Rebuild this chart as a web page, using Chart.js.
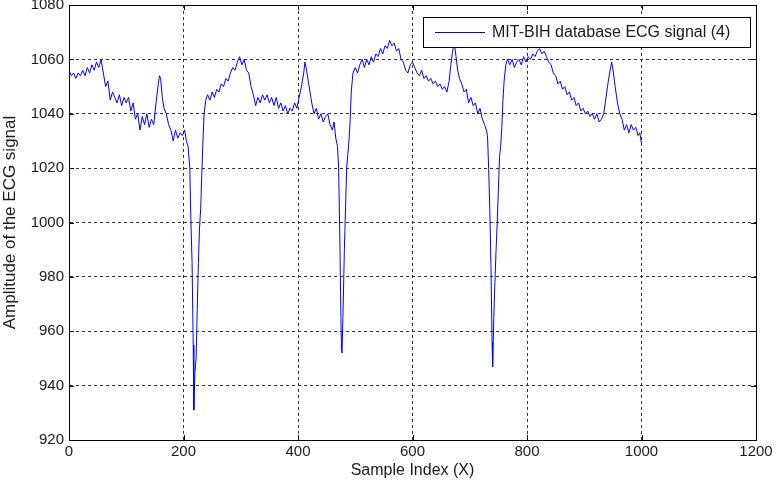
<!DOCTYPE html>
<html>
<head>
<meta charset="utf-8">
<script src="https://cdn.jsdelivr.net/npm/chart.js@4/dist/chart.umd.min.js"></script>
<style>
html, body { margin: 0; padding: 0; background: #fff; }
</style>
</head>
<body>
<canvas id="ecgChart" width="777" height="485"></canvas>
<script>
// ECG trace (sample index / amplitude)
const sampleIndex = [
    0, 4, 8, 12, 16, 20, 24, 28, 32, 36,
    40, 44, 48, 52, 56, 60, 64, 68, 72, 76,
    80, 84, 88, 92, 96, 100, 104, 108, 112, 116,
    120, 124, 128, 132, 136, 140, 144, 148, 152, 156,
    158, 160, 163, 166, 170, 174, 178, 182, 186, 190,
    194, 198, 202, 205, 208, 211, 213, 215, 217, 218,
    220, 222, 224, 226, 228, 230, 232, 234, 236, 239,
    242, 246, 250, 254, 258, 262, 266, 270, 274, 278,
    282, 286, 290, 294, 298, 302, 306, 310, 314, 318,
    322, 326, 330, 334, 338, 342, 346, 350, 354, 358,
    362, 366, 370, 374, 378, 382, 386, 390, 394, 398,
    402, 406, 410, 412, 415, 418, 421, 424, 428, 432,
    436, 440, 444, 448, 452, 456, 460, 463, 466, 469,
    471, 473, 475, 476, 477, 479, 481, 483, 485, 487,
    489, 491, 493, 496, 500, 504, 508, 512, 516, 520,
    524, 528, 532, 536, 540, 544, 548, 552, 556, 560,
    564, 568, 572, 576, 580, 584, 588, 592, 596, 600,
    604, 608, 612, 616, 620, 624, 628, 632, 636, 640,
    644, 648, 652, 656, 660, 664, 667, 670, 673, 676,
    679, 682, 686, 690, 694, 698, 702, 706, 710, 714,
    718, 722, 726, 729, 731, 733, 735, 737, 739, 740,
    742, 744, 746, 748, 750, 752, 754, 756, 758, 760,
    763, 766, 770, 774, 778, 782, 786, 790, 794, 798,
    802, 806, 810, 814, 818, 822, 826, 830, 834, 838,
    842, 846, 850, 854, 858, 862, 866, 870, 874, 878,
    882, 886, 890, 894, 898, 902, 906, 910, 914, 918,
    922, 926, 930, 934, 938, 942, 946, 948, 951, 954,
    958, 962, 966, 970, 974, 978, 982, 986, 990, 994,
    997, 1000
];
const ecgAmplitude = [
    1056, 1054, 1055, 1053, 1055, 1054, 1056, 1054, 1057, 1055,
    1058, 1056, 1059, 1057, 1060, 1055, 1050, 1052, 1045, 1048,
    1046, 1044, 1047, 1043, 1046, 1044, 1046, 1041, 1044, 1038,
    1040, 1034, 1039, 1036, 1040, 1035, 1038, 1036, 1044, 1051,
    1054, 1053, 1046, 1042, 1040, 1036, 1034, 1030, 1034, 1031,
    1033, 1032, 1034, 1030, 1028, 1020, 1000, 985, 955, 931,
    945, 950, 968, 985, 998, 1005, 1018, 1030, 1040, 1045,
    1047, 1045, 1048, 1046, 1049, 1048, 1051, 1050, 1053, 1052,
    1055, 1057, 1056, 1059, 1061, 1058, 1060, 1056, 1055, 1050,
    1047, 1043, 1046, 1044, 1047, 1045, 1047, 1044, 1046, 1043,
    1046, 1042, 1044, 1041, 1043, 1040, 1042, 1041, 1044, 1042,
    1046, 1050, 1055, 1059, 1056, 1052, 1048, 1044, 1040, 1042,
    1038, 1040, 1037, 1039, 1040, 1036, 1034, 1037, 1031, 1028,
    1020, 995, 965, 953, 952, 970, 990, 1005, 1020, 1025,
    1030, 1037, 1048, 1055, 1057, 1055, 1058, 1060, 1057, 1060,
    1058, 1061, 1059, 1062, 1061, 1064, 1062, 1065, 1064, 1067,
    1065, 1066, 1063, 1064, 1060, 1059, 1056, 1055, 1058, 1059,
    1057, 1055, 1054, 1056, 1053, 1054, 1052, 1053, 1051, 1052,
    1050, 1051, 1049, 1050, 1048, 1052, 1058, 1063, 1066, 1061,
    1056, 1053, 1051, 1048, 1049, 1044, 1046, 1043, 1044, 1040,
    1042, 1038, 1036, 1034, 1032, 1020, 1005, 985, 956, 947,
    965, 978, 990, 1000, 1012, 1024, 1028, 1035, 1045, 1052,
    1058, 1060, 1058, 1060, 1057, 1059, 1060, 1058, 1061, 1059,
    1061, 1060, 1062, 1061, 1063, 1064, 1062, 1063, 1061, 1059,
    1058, 1055, 1054, 1051, 1052, 1049, 1050, 1047, 1048, 1045,
    1046, 1043, 1044, 1041, 1042, 1040, 1041, 1039, 1040, 1038,
    1040, 1037, 1038, 1040, 1046, 1052, 1057, 1059, 1055, 1050,
    1044, 1040, 1038, 1034, 1036, 1033, 1036, 1034, 1035, 1032,
    1033, 1029
];

const xTicks = [0, 200, 400, 600, 800, 1000, 1200];
const yTicks = [920, 940, 960, 980, 1000, 1020, 1040, 1060, 1080];

const FONT = '"Liberation Sans", Arial, sans-serif';
const TEXT = '#1a1a1a';

// closed axes box + small inward tick marks, like the matlab figure
const axesBox = {
    id: 'axesBox',
    afterDatasetsDraw(chart) {
        const { ctx, chartArea: a, scales } = chart;
        ctx.save();
        ctx.strokeStyle = '#000';
        ctx.lineWidth = 1;
        ctx.strokeRect(Math.round(a.left) + 0.5, Math.round(a.top) + 0.5,
            Math.round(a.right - a.left), Math.round(a.bottom - a.top));
        ctx.beginPath();
        xTicks.forEach(v => {
            const px = Math.round(scales.x.getPixelForValue(v)) + 0.5;
            ctx.moveTo(px, a.bottom); ctx.lineTo(px, a.bottom - 5);
            ctx.moveTo(px, a.top); ctx.lineTo(px, a.top + 5);
        });
        yTicks.forEach(v => {
            const py = Math.round(scales.y.getPixelForValue(v)) + 0.5;
            ctx.moveTo(a.left, py); ctx.lineTo(a.left + 5, py);
            ctx.moveTo(a.right, py); ctx.lineTo(a.right - 5, py);
        });
        ctx.stroke();
        ctx.restore();
    }
};

// legend box inside the plot, top right
const legendBox = {
    id: 'legendBox',
    afterDraw(chart) {
        const ctx = chart.ctx;
        const ds = chart.data.datasets[0];
        ctx.save();
        ctx.fillStyle = '#fff';
        ctx.fillRect(423.5, 17.5, 327, 30);
        ctx.strokeStyle = '#000';
        ctx.lineWidth = 1;
        ctx.strokeRect(423.5, 17.5, 327, 30);
        ctx.strokeStyle = ds.borderColor;
        ctx.beginPath();
        ctx.moveTo(435, 32.5);
        ctx.lineTo(485, 32.5);
        ctx.stroke();
        ctx.fillStyle = TEXT;
        ctx.font = '16px ' + FONT;
        ctx.textBaseline = 'middle';
        ctx.fillText(ds.label, 492, 33);
        ctx.restore();
    }
};

const ctx = document.getElementById('ecgChart').getContext('2d');
new Chart(ctx, {
    type: 'line',
    data: {
        datasets: [{
            label: 'MIT-BIH database ECG signal (4)',
            data: sampleIndex.map((s, i) => ({ x: s, y: ecgAmplitude[i] })),
            borderColor: '#0000ff',
            borderWidth: 1,
            pointRadius: 0,
            tension: 0,
            fill: false
        }]
    },
    options: {
        responsive: false,
        animation: false,
        layout: { padding: { left: 0, right: 21, top: 5, bottom: 0 } },
        plugins: {
            legend: { display: false },
            tooltip: { enabled: false }
        },
        scales: {
            x: {
                type: 'linear',
                min: 0,
                max: 1200,
                afterBuildTicks: scale => { scale.ticks = xTicks.map(v => ({ value: v })); },
                afterFit: scale => { scale.height = 45; },
                ticks: {
                    color: TEXT, font: { family: FONT, size: 15 }, padding: 3, maxRotation: 0,
                    callback: v => String(v)
                },
                grid: { color: '#333', lineWidth: 1, drawTicks: false },
                border: { display: true, color: '#000', dash: [3, 3] },
                title: {
                    display: true,
                    text: 'Sample Index (X)',
                    color: TEXT,
                    font: { family: FONT, size: 16 },
                    padding: { top: 0, bottom: 5 }
                }
            },
            y: {
                type: 'linear',
                min: 920,
                max: 1080,
                afterBuildTicks: scale => { scale.ticks = yTicks.map(v => ({ value: v })); },
                afterFit: scale => {
                    scale.width = 69;
                    scale.paddingTop = 0;
                    scale.paddingBottom = 0;
                },
                ticks: {
                    color: TEXT, font: { family: FONT, size: 15 }, padding: 5,
                    callback: v => String(v)
                },
                grid: { color: '#333', lineWidth: 1, drawTicks: false },
                border: { display: true, color: '#000', dash: [3, 3] },
                title: {
                    display: true,
                    text: 'Amplitude of the ECG signal',
                    color: TEXT,
                    font: { family: FONT, size: 17 },
                    padding: { top: 0, bottom: 0 }
                }
            }
        }
    },
    plugins: [axesBox, legendBox]
});
</script>
</body>
</html>
